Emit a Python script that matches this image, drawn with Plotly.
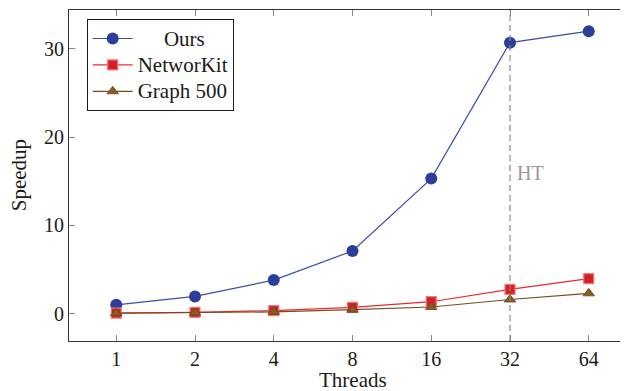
import plotly.graph_objects as go

threads = [1, 2, 4, 8, 16, 32, 64]
ours = [1.0, 1.95, 3.8, 7.1, 15.3, 30.7, 32.0]
networkit = [0.05, 0.15, 0.35, 0.7, 1.35, 2.75, 3.97]
graph500 = [0.05, 0.1, 0.2, 0.45, 0.75, 1.6, 2.3]
series_names = ["Ours", "NetworKit", "Graph 500"]
x_ticks = [1, 2, 4, 8, 16, 32, 64]
y_ticks = [0, 10, 20, 30]
ht_thread = 32

FONT = "Liberation Serif, Times New Roman, serif"
NB = "\u00a0"

# page body adds an 8px offset; figure coords = screen coords - 8
L, T, B = 61, 1.7, 332.7
W, H = 628, 391
PW, PH = W - L, B - T


def px(xs):
    return (xs - 8 - L) / PW


def py(ys):
    return 1 - (ys - 8 - T) / PH


def leg(name, pad=0):
    return '<span style="font-size:21px">' + NB * pad + name + "</span>"


fig = go.Figure()
fig.add_trace(go.Scatter(x=threads, y=ours, mode="lines+markers", name=leg(series_names[0], 5),
                         line=dict(color="#3a4eac", width=1.2),
                         marker=dict(symbol="circle", size=12, color="#2c3e9c")))
fig.add_trace(go.Scatter(x=threads, y=networkit, mode="lines+markers", name=leg(series_names[1]),
                         line=dict(color="#ec2830", width=1.2),
                         marker=dict(symbol="square", size=10, color="#d41f27",
                                     line=dict(color="#f07a7a", width=1.2))))
fig.add_trace(go.Scatter(x=threads, y=graph500, mode="lines+markers", name=leg(series_names[2]),
                         line=dict(color="#7a4a1c", width=1.2),
                         marker=dict(symbol="triangle-up", size=10, color="#8b5a24",
                                     line=dict(color="#6b4216", width=0.8))))

fig.add_shape(type="line", xref="x", yref="paper", x0=ht_thread, x1=ht_thread, y0=0, y1=1,
              line=dict(color="#8a8a8a", width=1.2, dash="6px,4px"))
fig.add_annotation(x=px(530.5), xref="paper", y=py(172.5), yref="paper", text="HT",
                   showarrow=False, xanchor="center", yanchor="middle",
                   font=dict(family=FONT, size=20, color="#999999"))
fig.add_annotation(x=px(353), xref="paper", y=py(380), yref="paper",
                   text="Threads", showarrow=False, xanchor="center", yanchor="middle",
                   font=dict(family=FONT, size=21, color="#1a1a1a"))
fig.add_annotation(x=px(19), xref="paper", y=py(175), yref="paper",
                   text="Speedup", showarrow=False, textangle=-90,
                   xanchor="center", yanchor="middle",
                   font=dict(family=FONT, size=21, color="#1a1a1a"))

l2 = 0.30103
fig.update_layout(
    width=W, height=H,
    margin=dict(l=L, r=0, t=T, b=H - B, autoexpand=False),
    paper_bgcolor="white", plot_bgcolor="white",
    font=dict(family=FONT, size=20, color="#1a1a1a"),
    showlegend=True,
    legend=dict(x=px(86.7), y=py(19), xanchor="left", yanchor="top",
                bgcolor="white", bordercolor="#1a1a1a", borderwidth=1,
                font=dict(family=FONT, size=18, color="#1a1a1a"),
                itemwidth=40, tracegroupgap=0),
    xaxis=dict(type="log", range=[-0.6 * l2, 6.6 * l2], tickvals=x_ticks,
               ticktext=[str(t) for t in x_ticks], ticks="inside", ticklen=6,
               tickcolor="#888888", showline=True, linecolor="#333333", linewidth=1.2,
               mirror="ticks", showgrid=False, zeroline=False, automargin=False),
    yaxis=dict(range=[-3.1, 34.4], tickvals=y_ticks, ticks="inside", ticklen=6,
               tickcolor="#888888", showline=True, linecolor="#333333", linewidth=1.2,
               showgrid=False, zeroline=False, automargin=False),
)
fig.write_html("out.html")
